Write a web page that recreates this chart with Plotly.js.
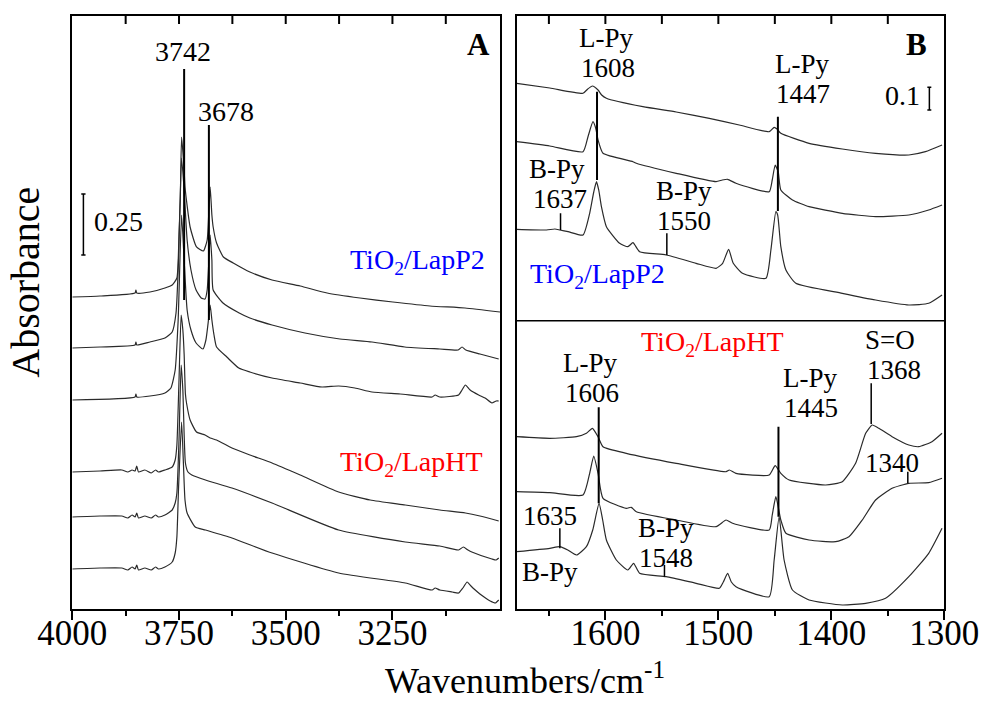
<!DOCTYPE html>
<html>
<head>
<meta charset="utf-8">
<script src="https://cdn.plot.ly/plotly-3.0.1.min.js"></script>
<style>html,body{margin:0;padding:0;background:#fff;}#chart{width:984px;height:706px;}</style>
</head>
<body>
<div id="chart"></div>
<script>
// ---------- Panel A: OH stretching region (display units, stacked) ----------
const wnA1 = [4000,3935,3853,3851,3849,3818,3783,3766,3755,3750,3747,3744,3738,3736,3724,3709,3693,3684,3680,3677,3673,3670,3662,3646,3623,3584,3532,3466,3403,3326,3249,3162,3080,2998];
const abA1 = [312,313,316,319,316,317,321,324,331,375,410,472,439,422,382,362,358,369,399,422,394,382,366,352,346,337,329,323,316,311,307,303,301,297];

const wnA2 = [4000,3935,3853,3851,3849,3818,3783,3766,3757,3751,3744,3738,3731,3722,3710,3698,3689,3684,3680,3677,3673,3670,3647,3609,3584,3532,3455,3373,3298,3221,3139,3096,3087,3078,3045,3001];
const abA2 = [261,262,264,267,264,267,271,277,296,350,451,419,369,339,319,311,310,319,349,374,349,319,306,296,291,284,276,270,267,262,260,259,262,259,255,250];

const wnA3 = [4000,3853,3851,3849,3818,3783,3769,3759,3752,3744,3738,3731,3722,3710,3694,3687,3681,3677,3673,3668,3662,3638,3610,3584,3532,3466,3415,3376,3338,3298,3232,3157,3150,3139,3095,3087,3079,3068,3048,3033,3017,3007,3001];
const abA3 = [209,212,215,212,213,216,221,239,289,394,349,299,279,266,260,269,289,304,289,274,262,252,241,237,231,226,222,223,221,217,215,212,214,212,214,219,224,219,214,211,206,208,208];

const wnA4 = [4000,3935,3884,3870,3860,3853,3849,3845,3830,3815,3805,3798,3783,3766,3759,3755,3750,3745,3741,3738,3735,3732,3724,3709,3689,3677,3662,3626,3584,3532,3466,3376,3302,3220,3139,3079,3045,3001];
const abA4 = [137,138,139,137,139,138,143,137,139,136,139,137,139,142,149,164,229,294,279,255,215,205,189,177,174,171,169,161,154,146,134,117,109,104,99,96,93,88];

const wnA5 = [4000,3935,3884,3870,3860,3853,3849,3845,3830,3815,3805,3798,3783,3766,3759,3755,3750,3745,3741,3735,3729,3720,3688,3626,3532,3376,3220,3139,3095,3084,3073,3064,3017,3007,3001];
const abA5 = [92,93,93,91,94,92,96,91,93,91,94,92,94,99,106,116,169,244,219,146,137,134,129,121,106,79,67,63,59,62,59,57,50,49,51];

const wnA6 = [4000,3935,3884,3870,3860,3853,3849,3845,3830,3815,3805,3798,3783,3766,3759,3755,3751,3744,3740,3736,3731,3712,3688,3626,3532,3376,3220,3157,3150,3139,3110,3095,3085,3075,3066,3056,3045,3032,3021,3009,3001];
const abA6 = [40,41,41,39,42,40,44,39,41,39,42,40,42,47,56,72,122,187,149,109,96,82,79,71,56,36,26,19,21,19,17,16,21,27,23,19,15,11,8,6,9];

// ---------- Panel B: pyridine region (display units, stacked) ----------
const wnB1 = [1678.5,1649.2,1619.8,1615.6,1611.5,1606.5,1603.3,1599.1,1566.8,1537.3,1508,1481.5,1455,1450.6,1448,1444.7,1419.7,1390.3,1360.8,1331.4,1316.7,1302];
const abB1 = [525.7,521,515.7,520,523,519,514,510.7,502.3,497,490.7,484,477.3,481.7,480,475.7,465.7,460,455.7,454,457.3,464];

const wnB2 = [1678.5,1649.2,1619.8,1615.4,1611,1608.6,1606.5,1602.1,1575.6,1572.6,1537.3,1502,1496.5,1491.8,1484.4,1455,1452.3,1449.7,1447,1444.7,1434.4,1419.7,1390.3,1360.8,1331.4,1313.8,1302];
const abB2 = [467.3,463,457.3,472.3,487.3,481,469,455.7,447.3,445.7,435.7,427.3,429,429.7,425.7,417.3,429,444,437,419,409,402.3,395.7,392.3,394,399,404];

const wnB3 = [1678.5,1652.1,1644.7,1640.3,1633,1619.8,1613.9,1610.3,1607.9,1605.9,1603.5,1599.1,1587.4,1580.1,1575.6,1569.7,1546.2,1519.7,1502,1496.2,1490.9,1486.8,1478.6,1457.9,1453.5,1449.1,1447.5,1444.7,1440.2,1431.4,1390.3,1360.8,1331.4,1313.8,1302];
const abB3 = [379.7,379,380,379,377.3,374,395.7,417,427.3,419,402.3,382.3,365.7,362.3,366.3,357.3,354,345.7,340.7,345.7,359.7,345.7,335.7,330.7,359,397.3,394,362.3,339,325.7,315.7,309,304,305.7,314];

const wnB4 = [1678.5,1649.2,1625.6,1616.8,1611.5,1606.5,1602.1,1581.5,1537.3,1493.2,1490.3,1484.4,1455,1449.7,1444.7,1437.3,1405,1390.3,1378.5,1369.6,1363.8,1357.9,1346.2,1331.4,1322.6,1310.9,1302];
const abB4 = [172.3,170.7,172.3,175.7,180.7,172.3,162.3,155.7,145.7,137.3,139,135.7,134,143.3,135.7,129,124,127.3,145.7,175.7,184,180.7,172.3,164,162.3,167.3,175.7];

const wnB5 = [1678.5,1649.2,1619.8,1613.9,1610.3,1606.5,1602.1,1581.5,1577.1,1572.6,1537.3,1502,1493.2,1487.4,1455,1452.3,1449.1,1444.7,1440.2,1419.7,1396.1,1384.4,1372.6,1360.8,1346.2,1331.4,1313.8,1302];
const abB5 = [117.3,116.3,114,135.7,153,135.7,110.7,100.7,101.7,97.3,89,82.3,89,85.7,79,94,112.3,89,75.7,69,67.3,72.3,89,109,120.7,125.7,126.3,130.7];

const wnB6 = [1678.5,1649.2,1640.3,1633.3,1625.6,1616.8,1611.2,1605.6,1602.4,1599.1,1590.3,1580.1,1575,1569.7,1546.2,1519.7,1499.1,1495.6,1491.8,1488.5,1484.4,1455,1450.6,1446.2,1441.8,1434.4,1419.7,1390.3,1369.6,1352,1331.4,1313.8,1302];
const abB6 = [57.3,60.7,62.3,59,54,62.3,79,105.7,89,69,49,39,45.7,35.7,32.3,25.7,20.7,27,35.7,27,22.3,12.3,49,92.3,49,19,9,4,5.7,10.7,32.3,55.7,80.7];

// ---------- ticks ----------
const tickA = [4000,3750,3500,3250];
const minorA = [3875,3625,3375,3125];
const topA = [3875,3750,3625,3500,3375,3250,3125];
const tickB = [1600,1500,1400,1300];
const minorB = [1650,1550,1450,1350];
const topB = [1650,1600,1550,1500,1450,1400,1350];

const FONT = 'Liberation Serif, Times New Roman, serif';
const lineStyle = {color:'#2a2a2a', width:1.2, shape:'spline', smoothing:0.5};

function tr(x, y, xa, ya) {
  return {x:x, y:y, type:'scatter', mode:'lines', line:lineStyle, xaxis:xa, yaxis:ya, hoverinfo:'skip', showlegend:false};
}
const data = [
  tr(wnA1,abA1,'x','y'), tr(wnA2,abA2,'x','y'), tr(wnA3,abA3,'x','y'),
  tr(wnA4,abA4,'x','y'), tr(wnA5,abA5,'x','y'), tr(wnA6,abA6,'x','y'),
  tr(wnB1,abB1,'x2','y2'), tr(wnB2,abB2,'x2','y2'), tr(wnB3,abB3,'x2','y2'),
  tr(wnB4,abB4,'x2','y2'), tr(wnB5,abB5,'x2','y2'), tr(wnB6,abB6,'x2','y2')
];

const yDom = [0.13739, 0.97734];
const rangeA = [4000, 2998];
const rangeB = [1678.5, 1300];

function bottomAxis(dom, range, ticks, minor, yref) {
  return {
    domain: dom, range: range, anchor: yref,
    tickmode:'array', tickvals: ticks, ticktext: ticks.map(String),
    ticks:'outside', ticklen:9, tickwidth:2, tickcolor:'#000',
    ticklabelstandoff: -17,
    tickfont:{family:FONT, size:35, color:'#000'},
    showline:true, linewidth:2, linecolor:'#000', mirror:true,
    showgrid:false, zeroline:false, fixedrange:true,
    minor:{tickmode:'array', tickvals: minor, ticks:'outside', ticklen:5, tickwidth:2, tickcolor:'#000', showgrid:false}
  };
}
function sideAxis(xref) {
  return {
    domain: yDom, range:[0,593], anchor: xref,
    showline:true, linewidth:2, linecolor:'#000', mirror:true,
    ticks:'', showticklabels:false, showgrid:false, zeroline:false, fixedrange:true
  };
}

function ln(xr, yr, x0, y0, x1, y1, w) {
  return {type:'line', xref:xr, yref:yr, x0:x0, y0:y0, x1:x1, y1:y1, layer:'above', line:{color:'#000', width:w || 2}};
}
// inward ticks hanging from the top frame, placed at the tick values through each panel's x axis
const topEdge = yDom[1];
const topTickEnd = yDom[1] - 8 / 706;
const topTicks = topA.map(v => ln('x','paper',v,topEdge,v,topTickEnd,2))
  .concat(topB.map(v => ln('x2','paper',v,topEdge,v,topTickEnd,2)));

const shapes = [
  ln('x','y',3738,540,3738,309),
  ln('x','y',3680,484,3680,289),
  ln('x','y',3974,354,3974,415,1.5), ln('x','y',3979,354,3969,354,1.5), ln('x','y',3979,415,3969,415,1.5),
  {type:'line', xref:'x2 domain', yref:'y2', x0:0, x1:1, y0:288.3, y1:288.3, line:{color:'#000', width:1.5}},
  ln('x2','y2',1313.2,499,1313.2,521.7,1.5), ln('x2','y2',1315,499,1311.5,499,1.5), ln('x2','y2',1315,521.7,1311.5,521.7,1.5),
  ln('x2','y2',1607.4,517.3,1607.4,429),
  ln('x2','y2',1447.3,492.3,1447.3,398),
  ln('x2','y2',1639.7,395.7,1639.7,379,1.5),
  ln('x2','y2',1545.6,375.7,1545.6,354,1.5),
  ln('x2','y2',1605.9,201.7,1605.9,105.7),
  ln('x2','y2',1446.8,182.3,1446.8,92.3),
  ln('x2','y2',1364.7,225.7,1364.7,185,1.5),
  ln('x2','y2',1332.3,137.3,1332.3,125.7,1.5),
  ln('x2','y2',1640.3,80.7,1640.3,60.7,1.5),
  ln('x2','y2',1547.7,44,1547.7,32.3,1.5)
].concat(topTicks);

function an(xr, yr, x, y, text, opts) {
  return Object.assign({xref:xr, yref:yr, x:x, y:y, text:text, showarrow:false,
    xanchor:'center', yanchor:'middle', font:{family:FONT, size:27, color:'#000'}}, opts || {});
}
const annotations = [
  an('x','y',3740,557,'3742',{font:{family:FONT,size:28,color:'#000'}}),
  an('x','y',3640,497,'3678',{font:{family:FONT,size:28,color:'#000'}}),
  an('x','y',3049,564,'<b>A</b>',{font:{family:FONT,size:31,color:'#000'}}),
  an('x','y',3954,387,'0.25',{xanchor:'left', font:{family:FONT,size:28,color:'#000'}}),
  an('x','y',3028,347,'TiO<sub>2</sub>/LapP2',{xanchor:'right', font:{family:FONT,size:28,color:'#0000ff'}}),
  an('x','y',3033,145,'TiO<sub>2</sub>/LapHT',{xanchor:'right', font:{family:FONT,size:28,color:'#ff0000'}}),

  an('x2','y2',1324.3,564,'<b>B</b>',{font:{family:FONT,size:31,color:'#000'}}),
  an('x2','y2',1598.8,570.5,'L-Py'),
  an('x2','y2',1598,540.5,'1608'),
  an('x2','y2',1425.8,545,'L-Py'),
  an('x2','y2',1425,515,'1447'),
  an('x2','y2',1336.7,513,'0.1',{font:{family:FONT,size:28,color:'#000'}}),
  an('x2','y2',1643,440,'B-Py'),
  an('x2','y2',1640.3,410,'1637'),
  an('x2','y2',1530,417.5,'B-Py'),
  an('x2','y2',1530,387.5,'1550'),
  an('x2','y2',1668.6,333,'TiO<sub>2</sub>/LapP2',{xanchor:'left', font:{family:FONT,size:28,color:'#0000ff'}}),
  an('x2','y2',1505.3,265,'TiO<sub>2</sub>/LapHT',{font:{family:FONT,size:28,color:'#ff0000'}}),
  an('x2','y2',1613,246,'L-Py'),
  an('x2','y2',1612.1,216,'1606'),
  an('x2','y2',1418.8,231,'L-Py'),
  an('x2','y2',1418,201,'1445'),
  an('x2','y2',1348.2,269,'S=O'),
  an('x2','y2',1344.7,239,'1368'),
  an('x2','y2',1346.5,146,'1340'),
  an('x2','y2',1649.2,93,'1635'),
  an('x2','y2',1649.2,37,'B-Py'),
  an('x2','y2',1545.9,81,'B-Py'),
  an('x2','y2',1545.9,51,'1548'),

  an('paper','paper',0.534,0.004,'Wavenumbers/cm<sup>-1</sup>',{yanchor:'bottom', font:{family:FONT,size:36,color:'#000'}}),
  an('paper','paper',0.0264,0.601,'Absorbance',{textangle:-90, font:{family:FONT,size:40,color:'#000'}})
];

const layout = {
  width:984, height:706,
  margin:{l:0, r:0, t:0, b:0},
  paper_bgcolor:'#fff', plot_bgcolor:'#fff',
  showlegend:false,
  font:{family:FONT, color:'#000'},
  xaxis: bottomAxis([0.07348,0.50813], rangeA, tickA, minorA, 'y'),
  yaxis: sideAxis('x'),
  xaxis2: bottomAxis([0.52510,0.95965], rangeB, tickB, minorB, 'y2'),
  yaxis2: sideAxis('x2'),
  shapes: shapes,
  annotations: annotations
};

Plotly.newPlot('chart', data, layout, {staticPlot:true, displayModeBar:false});
</script>
</body>
</html>
